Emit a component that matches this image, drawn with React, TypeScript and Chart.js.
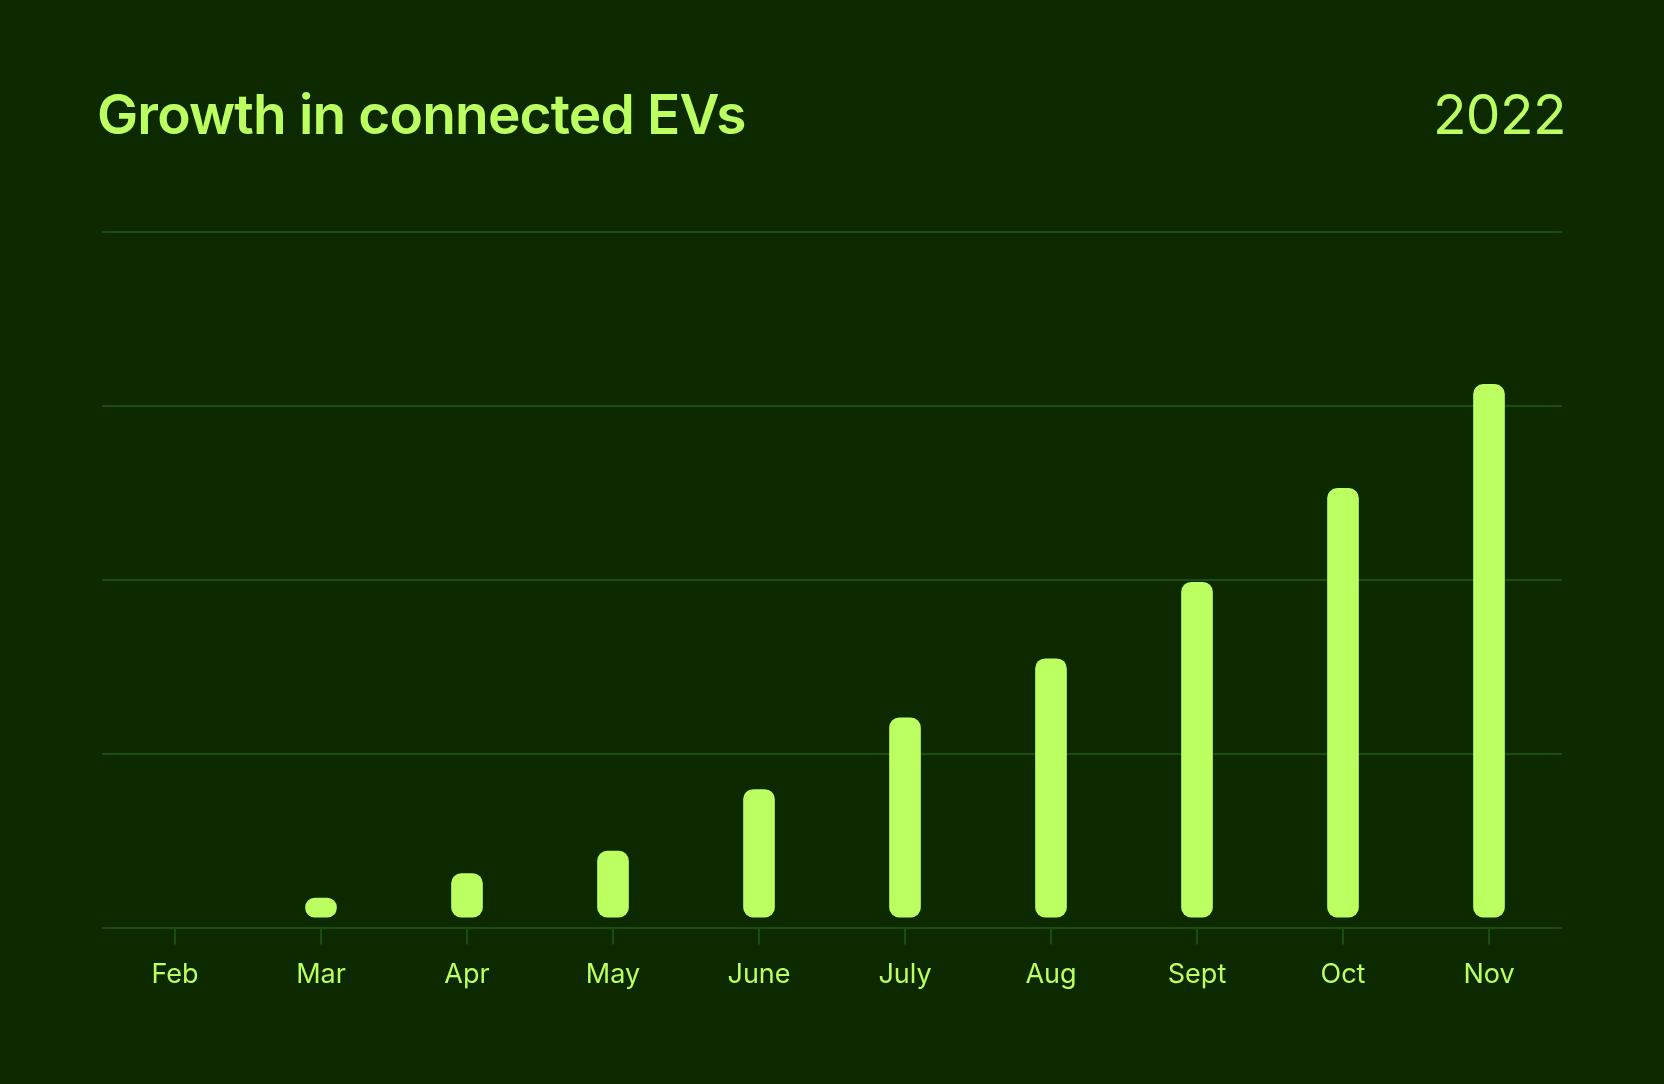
import React, { useEffect, useRef } from 'react';
import Chart from 'chart.js/auto';

// values (no y labels shown, units unknown)
const months = ['Feb', 'Mar', 'Apr', 'May', 'June', 'July', 'Aug', 'Sept', 'Oct', 'Nov'];
const connectedEVs = [null, 0.85, 1.55, 2.2, 3.97, 6.03, 7.73, 9.93, 12.63, 15.62];
const yTicks = [0, 5, 10, 15, 20];

const BG = '#0c2900';
const LIME = '#bbff60';
const GRID = '#1d4d0a';

const App: React.FC = () => {
  const chartRef = useRef<HTMLCanvasElement>(null);

  useEffect(() => {
    if (!chartRef.current) return;
    const ctx = chartRef.current.getContext('2d');
    if (!ctx) return;

    const chart = new Chart(ctx, {
      type: 'bar',
      data: {
        labels: months,
        datasets: [
          {
            label: 'Connected EVs',
            data: connectedEVs,
            backgroundColor: LIME,
            barThickness: 31,
            borderRadius: 10,
            borderSkipped: false,
            base: 0.3, // bars float a little above the baseline
          },
        ],
      },
      options: {
        animation: false,
        responsive: true,
        maintainAspectRatio: false,
        layout: {
          padding: { left: 102, right: 102, top: 232, bottom: 79 },
        },
        plugins: {
          legend: { display: false },
          tooltip: { enabled: false },
        },
        scales: {
          x: {
            offset: true,
            grid: {
              offset: false,
              drawOnChartArea: false,
              drawTicks: true,
              tickLength: 17,
              color: GRID,
              lineWidth: 2,
            },
            border: { display: false },
            ticks: {
              color: LIME,
              padding: 14,
              font: { family: 'Inter', size: 27 },
            },
          },
          y: {
            min: yTicks[0],
            max: yTicks[yTicks.length - 1],
            afterBuildTicks: (scale) => {
              scale.ticks = yTicks.map((v) => ({ value: v }));
            },
            grid: { color: GRID, lineWidth: 2, drawTicks: false },
            border: { display: false },
            ticks: { display: false },
          },
        },
      },
    });

    return () => {
      chart.destroy();
    };
  }, []);

  return (
    <div style={{ position: 'fixed', inset: 0, background: BG, overflow: 'hidden' }}>
      <div
        style={{
          position: 'absolute',
          left: 97,
          top: 87,
          fontFamily: 'Inter',
          fontWeight: 600,
          fontSize: 55,
          lineHeight: 1,
          color: LIME,
          letterSpacing: '-0.015em',
          whiteSpace: 'nowrap',
        }}
      >
        Growth in connected EVs
      </div>
      <div
        style={{
          position: 'absolute',
          right: 1664 - 1566,
          top: 87,
          fontFamily: 'Inter',
          fontWeight: 400,
          fontSize: 55,
          lineHeight: 1,
          color: LIME,
          letterSpacing: '-0.01em',
          whiteSpace: 'nowrap',
        }}
      >
        2022
      </div>
      <div style={{ position: 'absolute', left: 0, top: 0, width: 1664, height: 1084 }}>
        <canvas ref={chartRef} />
      </div>
    </div>
  );
};

export default App;
